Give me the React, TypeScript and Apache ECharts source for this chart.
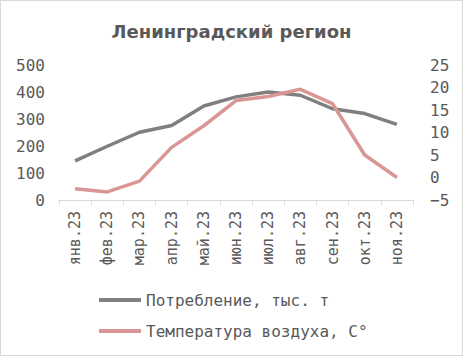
import React, { useEffect, useRef } from "react";
import * as echarts from "echarts";

const categories = ["янв.23", "фев.23", "мар.23", "апр.23", "май.23", "июн.23", "июл.23", "авг.23", "сен.23", "окт.23", "ноя.23"];
const consumption = [145, 199, 251, 276, 348, 382, 400, 388, 338, 320, 280];
const temperature = [-2.5, -3.2, -0.8, 6.7, 11.5, 17.1, 18.0, 19.6, 16.4, 5.0, 0.0];
const seriesNames = ["Потребление, тыс. т", "Температура воздуха, С°"];
const titleText = "Ленинградский регион";

export default function App() {
  const ref = useRef<HTMLDivElement>(null);
  useEffect(() => {
    if (!ref.current) return;
    const chart = echarts.init(ref.current, null, { renderer: "svg" });
    const mono = "DejaVu Sans Mono";
    const grey = "#595959";
    chart.setOption({
      animation: false,
      backgroundColor: "#ffffff",
      title: {
        text: titleText,
        left: "center",
        top: 16,
        textStyle: { fontFamily: "DejaVu Sans", fontWeight: "bold", fontSize: 18, color: grey },
      },
      grid: { left: 58, right: 49, top: 64, bottom: 155 },
      legend: {
        orient: "vertical",
        left: 93,
        top: 286,
        itemWidth: 42,
        itemHeight: 4,
        itemGap: 15,
        icon: "rect",
        textStyle: { fontFamily: mono, fontSize: 16, color: grey },
        data: seriesNames,
      },
      xAxis: {
        type: "category",
        data: categories,
        boundaryGap: true,
        axisLine: { lineStyle: { color: "#d9d9d9", width: 1 } },
        axisTick: { show: true, inside: false, length: 5, lineStyle: { color: "#d9d9d9" } },
        axisLabel: { rotate: 90, interval: 0, fontFamily: mono, fontSize: 15, color: grey, margin: 11 },
      },
      yAxis: [
        {
          type: "value",
          min: 0,
          max: 500,
          interval: 100,
          splitLine: { show: false },
          axisLine: { show: false },
          axisTick: { show: false },
          axisLabel: { fontFamily: mono, fontSize: 16, color: grey, margin: 14 },
        },
        {
          type: "value",
          min: -5,
          max: 25,
          interval: 5,
          splitLine: { show: false },
          axisLine: { show: false },
          axisTick: { show: false },
          axisLabel: {
            fontFamily: mono,
            fontSize: 16,
            color: grey,
            margin: 17,
            formatter: (v: number) => String(v).replace("-", "\u2212"),
          },
        },
      ],
      series: [
        {
          name: seriesNames[0],
          type: "line",
          data: consumption,
          yAxisIndex: 0,
          symbol: "none",
          itemStyle: { color: "#7f7f7f" },
          lineStyle: { color: "#7f7f7f", width: 3.5 },
        },
        {
          name: seriesNames[1],
          type: "line",
          data: temperature,
          yAxisIndex: 1,
          symbol: "none",
          itemStyle: { color: "#d99694" },
          lineStyle: { color: "#d99694", width: 3.5 },
        },
      ],
    });
    return () => chart.dispose();
  }, []);
  return (
    <div
      style={{
        position: "fixed",
        left: 0,
        top: 0,
        width: 463,
        height: 356,
        boxSizing: "border-box",
        border: "1px solid #d9d9d9",
        background: "#fff",
      }}
    >
      <div ref={ref} style={{ width: 461, height: 354 }} />
    </div>
  );
}
